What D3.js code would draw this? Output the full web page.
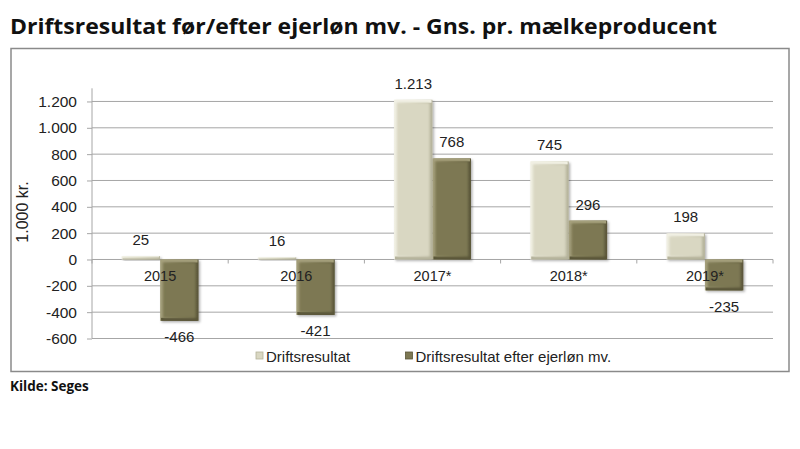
<!DOCTYPE html>
<html>
<head>
<meta charset="utf-8">
<script src="https://cdn.jsdelivr.net/npm/d3@7"></script>
<style>
  body { margin: 0; background: #fff; }
  svg { display: block; }
</style>
</head>
<body>
<div id="chart"></div>
<script>
var years = ["2015", "2016", "2017*", "2018*", "2019*"]
var seriesNames = ["Driftsresultat", "Driftsresultat efter ejerløn mv."]
var drift = [25, 16, 1213, 745, 198]
var driftEfter = [-466, -421, 768, 296, -235]
var yTicks = [-600, -400, -200, 0, 200, 400, 600, 800, 1000, 1200]

var barColors = [
    { base: "#d9d7c2", light: "#f1f0e4", dark: "#b4b29a" },
    { base: "#7d7853", light: "#a5a07c", dark: "#5a5639" }
]

var width = 800,
    height = 449

var fmt = function(v) {
    // danish number format, dot as thousand separator
    var s = Math.abs(v).toString().replace(/\B(?=(\d{3})+(?!\d))/g, ".")
    return (v < 0 ? "-" : "") + s
}

var svg = d3.select("#chart").append("svg")
    .attr("width", width)
    .attr("height", height)

var defs = svg.append("defs")
barColors.forEach(function(c, i) {
    var g = defs.append("linearGradient").attr("id", "edge" + i)
        .attr("x1", 0).attr("x2", 1).attr("y1", 0).attr("y2", 0)
    g.append("stop").attr("offset", "0%").attr("stop-color", c.light)
    g.append("stop").attr("offset", "50%").attr("stop-color", c.base)
    g.append("stop").attr("offset", "100%").attr("stop-color", c.dark)
})
var sh = defs.append("filter").attr("id", "shadow")
    .attr("x", "-20%").attr("y", "-20%").attr("width", "150%").attr("height", "150%")
sh.append("feDropShadow").attr("dx", 1.5).attr("dy", 1.5).attr("stdDeviation", 1.2)
    .attr("flood-color", "#000").attr("flood-opacity", 0.3)
var soft = defs.append("filter").attr("id", "soft")
soft.append("feGaussianBlur").attr("stdDeviation", 1)

// title
var title = svg.append("text")
    .attr("x", 10).attr("y", 34)
    .attr("font-family", "Open Sans, sans-serif")
    .attr("font-weight", 700)
    .attr("font-size", 22)
    .attr("fill", "#111")
    .text("Driftsresultat før/efter ejerløn mv. - Gns. pr. mælkeproducent")
title.attr("textLength", 707).attr("lengthAdjust", "spacingAndGlyphs")

// frame
svg.append("rect")
    .attr("x", 11).attr("y", 48.5)
    .attr("width", 778).attr("height", 323)
    .attr("fill", "none")
    .attr("stroke", "#8a8a8a")
    .attr("stroke-width", 1.5)

var x0 = d3.scaleBand().domain(years).range([92, 773]).padding(0)
var x1 = d3.scaleBand().domain(seriesNames).range([0, x0.bandwidth()])
    .paddingInner(0).paddingOuter(0.77)
var y = d3.scaleLinear().domain([-600, 1300]).range([338.5, 88.3])

// gridlines
svg.append("g").selectAll("line").data(yTicks).join("line")
    .attr("x1", 92).attr("x2", 773)
    .attr("y1", function(d) { return y(d) }).attr("y2", function(d) { return y(d) })
    .attr("stroke", "#a6a6a6").attr("stroke-width", 1)

// y axis
var yAxis = svg.append("g")
    .attr("transform", "translate(92,0)")
    .call(d3.axisLeft(y).tickValues(yTicks).tickSize(5).tickPadding(10).tickFormat(fmt))
yAxis.select(".domain").attr("stroke", "#a6a6a6").attr("d", "M0," + y(1300) + "V" + y(-600))
yAxis.selectAll(".tick line").attr("stroke", "#a6a6a6")
yAxis.selectAll("text")
    .attr("font-family", "Liberation Sans, Arial, sans-serif")
    .attr("font-size", 15.5)
    .attr("fill", "#222")

svg.append("text")
    .attr("transform", "translate(28,212) rotate(-90)")
    .attr("text-anchor", "middle")
    .attr("font-family", "Liberation Sans, Arial, sans-serif")
    .attr("font-size", 16)
    .attr("fill", "#222")
    .text("1.000 kr.")

// x axis at zero
var xAxis = svg.append("g")
    .attr("transform", "translate(0," + y(0) + ")")
xAxis.append("line")
    .attr("x1", 92).attr("x2", 773)
    .attr("stroke", "#a6a6a6")
var bounds = years.map(function(d) { return x0(d) }).concat([x0.range()[1]])
xAxis.selectAll(".tk").data(bounds).join("line")
    .attr("x1", function(d) { return d }).attr("x2", function(d) { return d })
    .attr("y1", 0).attr("y2", 4)
    .attr("stroke", "#a6a6a6")

// bars
var rows = []
years.forEach(function(yr, i) {
    rows.push({ year: yr, s: 0, v: drift[i] })
    rows.push({ year: yr, s: 1, v: driftEfter[i] })
})

var bars = svg.append("g").selectAll("g").data(rows).join("g")
    .attr("transform", function(d) { return "translate(" + (x0(d.year) + x1(seriesNames[d.s])) + ",0)" })

bars.each(function(d) {
    var g = d3.select(this)
    var top = y(Math.max(0, d.v)),
        bot = y(Math.min(0, d.v)),
        w = x1.bandwidth(),
        h = bot - top
    var c = barColors[d.s]
    g.append("rect")
        .attr("x", 0).attr("y", top).attr("width", w).attr("height", h)
        .attr("fill", "url(#edge" + d.s + ")")
        .attr("filter", "url(#shadow)")
    var ins = Math.min(3, h / 3)
    if (h > 2) {
        // top highlight and bottom dark edge for bevel look
        g.append("rect")
            .attr("x", 1).attr("y", top).attr("width", w - 2).attr("height", ins)
            .attr("fill", c.light)
        g.append("rect")
            .attr("x", 1).attr("y", bot - ins).attr("width", w - 2).attr("height", ins)
            .attr("fill", c.dark)
        g.append("rect")
            .attr("x", ins).attr("y", top + ins)
            .attr("width", w - 2 * ins).attr("height", Math.max(0, h - 2 * ins))
            .attr("fill", c.base)
            .attr("filter", "url(#soft)")
    }
})

// data labels
bars.append("text")
    .attr("x", x1.bandwidth() / 2)
    .attr("y", function(d) { return d.v >= 0 ? y(d.v) - 11 : y(d.v) + 21.5 })
    .attr("text-anchor", "middle")
    .attr("font-family", "Liberation Sans, Arial, sans-serif")
    .attr("font-size", 15)
    .attr("fill", "#222")
    .text(function(d) { return fmt(d.v) })

// category labels drawn over bars
svg.append("g").selectAll("text").data(years).join("text")
    .attr("x", function(d) { return x0(d) + x0.bandwidth() / 2 })
    .attr("y", y(0) + 22)
    .attr("text-anchor", "middle")
    .attr("font-family", "Liberation Sans, Arial, sans-serif")
    .attr("font-size", 14.5)
    .attr("fill", "#222")
    .text(function(d) { return d })

// legend
var legendX = [256, 405.5]
var leg = svg.append("g").selectAll("g").data(seriesNames).join("g")
    .attr("transform", function(d, i) { return "translate(" + legendX[i] + ",352)" })
leg.append("rect")
    .attr("width", 7).attr("height", 7)
    .attr("fill", function(d, i) { return barColors[i].base })
    .attr("stroke", function(d, i) { return barColors[i].dark })
    .attr("stroke-width", 0.8)
leg.append("text")
    .attr("x", 10).attr("y", 9.5)
    .attr("font-family", "Liberation Sans, Arial, sans-serif")
    .attr("font-size", 15)
    .attr("fill", "#222")
    .text(function(d) { return d })

// source
svg.append("text")
    .attr("x", 10).attr("y", 391)
    .attr("font-family", "Open Sans, sans-serif")
    .attr("font-weight", 700)
    .attr("font-size", 13.5)
    .attr("fill", "#111")
    .text("Kilde: Seges")
</script>
</body>
</html>
